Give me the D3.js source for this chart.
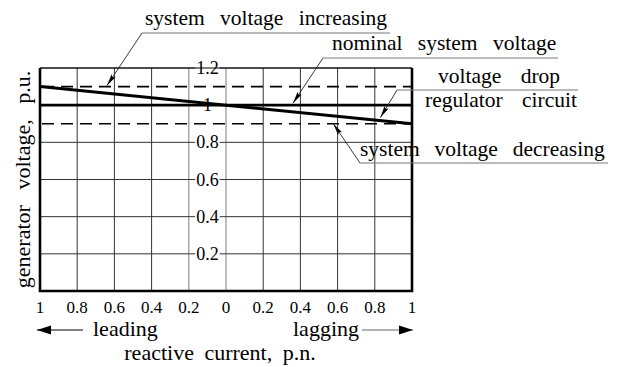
<!DOCTYPE html>
<html>
<head>
<meta charset="utf-8">
<script src="https://cdn.jsdelivr.net/npm/d3@7"></script>
<style>
  body { margin: 0; background: #fff; }
  text { font-family: "Liberation Serif", "Times New Roman", serif; fill: #000; }
</style>
</head>
<body>
<svg id="chart" width="618" height="367"></svg>
<script>
// reactive current, p.u. (negative = leading, positive = lagging)
const xTicks = [-1, -0.8, -0.6, -0.4, -0.2, 0, 0.2, 0.4, 0.6, 0.8, 1];
const yTicks = [0.2, 0.4, 0.6, 0.8, 1, 1.2];
const yGrid = [0.2, 0.4, 0.6, 0.8, 1.2];
// regulator characteristic (voltage drop)
const droopLine = [{x: -1, v: 1.1}, {x: 1, v: 0.9}];
const nominalVoltage = 1.0;
const bandLimits = [1.1, 0.9];

const svg = d3.select("svg#chart");
const margin = {top: 68, left: 40, right: 206, bottom: 76};
const width = +svg.attr("width");
const height = +svg.attr("height");

let x = d3.scaleLinear().domain([-1, 1]).range([margin.left, width - margin.right]);
let y = d3.scaleLinear().domain([0, 1.2]).range([height - margin.bottom, margin.top]);

const defs = svg.append("defs");
defs.append("marker")
    .attr("id", "tip")
    .attr("viewBox", "0 0 12 6")
    .attr("refX", 12).attr("refY", 3)
    .attr("markerWidth", 12).attr("markerHeight", 6)
    .attr("markerUnits", "userSpaceOnUse")
    .attr("orient", "auto")
    .append("path").attr("d", "M0,0.6 L12,3 L0,5.4 L2,3 Z").attr("fill", "#000");
defs.append("marker")
    .attr("id", "bigtip")
    .attr("viewBox", "0 0 14 10")
    .attr("refX", 14).attr("refY", 5)
    .attr("markerWidth", 14).attr("markerHeight", 10)
    .attr("markerUnits", "userSpaceOnUse")
    .attr("orient", "auto")
    .append("path").attr("d", "M0,0.5 L14,5 L0,9.5 Z").attr("fill", "#000");

// vertical gridlines (the two around the y labels are light)
svg.append("g").selectAll("line")
    .data(xTicks.slice(1, -1))
    .join("line")
    .attr("x1", d => x(d)).attr("x2", d => x(d))
    .attr("y1", y(1.2)).attr("y2", y(0))
    .attr("stroke", d => (d === 0 || d === -0.2) ? "#9a9a9a" : "#333")
    .attr("stroke-width", d => (d === 0 || d === -0.2) ? 1.3 : 1);

// horizontal gridlines
svg.append("g").selectAll("line")
    .data(yGrid)
    .join("line")
    .attr("x1", x(-1)).attr("x2", x(1))
    .attr("y1", d => y(d)).attr("y2", d => y(d))
    .attr("stroke", "#333")
    .attr("stroke-width", 1);

// y labels sit between the light gridlines, on white
const labX = (x(-0.2) + x(0)) / 2;
const yLab = svg.append("g").selectAll("g")
    .data(yTicks)
    .join("g");
yLab.each(function (d) {
    const g = d3.select(this);
    const t = g.append("text")
        .attr("x", labX).attr("y", y(d) + 6)
        .attr("text-anchor", "middle")
        .style("font-size", "18px")
        .text(d3.format("~g")(d));
    if (d !== 1) {
        const b = t.node().getBBox();
        g.insert("rect", "text")
            .attr("x", b.x - 1).attr("y", y(d) - 3)
            .attr("width", b.width + 2).attr("height", 6)
            .attr("fill", "#fff");
    }
});

// dashed band limits
svg.append("g").selectAll("line")
    .data(bandLimits)
    .join("line")
    .attr("x1", x(-1)).attr("x2", x(1))
    .attr("y1", d => y(d)).attr("y2", d => y(d))
    .attr("stroke", "#000")
    .attr("stroke-width", 1.6)
    .attr("stroke-dasharray", "12,7")
    .attr("stroke-dashoffset", -2);

// nominal voltage
svg.append("line")
    .attr("x1", x(-1)).attr("x2", x(1))
    .attr("y1", y(nominalVoltage)).attr("y2", y(nominalVoltage))
    .attr("stroke", "#000").attr("stroke-width", 2.6);

// droop line
svg.append("path")
    .datum(droopLine)
    .attr("d", d3.line().x(d => x(d.x)).y(d => y(d.v)))
    .attr("stroke", "#000").attr("stroke-width", 3).attr("fill", "none");

// frame
svg.append("line").attr("x1", x(-1)).attr("x2", x(1)).attr("y1", y(1.2)).attr("y2", y(1.2))
    .attr("stroke", "#000").attr("stroke-width", 1);
svg.append("path")
    .attr("d", `M${x(-1)},${y(1.2)} V${y(0)} H${x(1)} V${y(1.2)}`)
    .attr("fill", "none").attr("stroke", "#000").attr("stroke-width", 2.6);

// x tick labels
svg.append("g").selectAll("text")
    .data(xTicks)
    .join("text")
    .attr("x", d => x(d)).attr("y", y(0) + 22)
    .attr("text-anchor", "middle")
    .style("font-size", "17px")
    .text(d => d3.format("~g")(Math.abs(d)));

// leading / lagging
svg.append("text").attr("x", 93).attr("y", 336).style("font-size", "22px").text("leading");
svg.append("text").attr("x", 293).attr("y", 336).style("font-size", "22px").text("lagging");
svg.append("line").attr("x1", 83).attr("x2", x(-1) - 3).attr("y1", 330).attr("y2", 330)
    .attr("stroke", "#000").attr("stroke-width", 1).attr("marker-end", "url(#bigtip)");
svg.append("line").attr("x1", 362).attr("x2", x(1) + 1).attr("y1", 330).attr("y2", 330)
    .attr("stroke", "#666").attr("stroke-width", 1).attr("marker-end", "url(#bigtip)");

// axis titles
svg.append("text").attr("x", 220).attr("y", 360)
    .attr("text-anchor", "middle").style("font-size", "22px").style("word-spacing", "5px")
    .text("reactive current, p.n.");
svg.append("text")
    .attr("transform", `translate(30, ${(y(0) + y(1.2)) / 2}) rotate(-90)`)
    .attr("text-anchor", "middle").style("font-size", "22px").style("word-spacing", "10px")
    .text("generator voltage, p.u.");

// callouts: label, underline, leader to a point on a curve
const callouts = [
    {text: ["system voltage increasing"], tx: 145, ty: 25, ux1: 142, ux2: 390, uy: 33,
     px: -0.64, pv: 1.1, dy: -1, ws: 10},
    {text: ["nominal system voltage"], tx: 332, ty: 50, ux1: 323, ux2: 558, uy: 58,
     px: 0.36, pv: 1.0, dy: -2, ws: 10},
    {text: ["voltage drop", "regulator circuit"], tx: 438, ty: 83, ux1: 397, ux2: 578, uy: 90,
     px: 0.83, pv: 0.917, dy: -3, tx2: 425, ty2: 107, ws: 14},
    {text: ["system voltage decreasing"], tx: 360, ty: 156, ux1: 360, ux2: 608, uy: 163,
     px: 0.577, pv: 0.9, dy: 0, ws: 9.5}
];

callouts.forEach(c => {
    svg.append("text").attr("x", c.tx).attr("y", c.ty)
        .style("font-size", "21.5px").style("word-spacing", c.ws + "px").text(c.text[0]);
    if (c.text[1]) {
        svg.append("text").attr("x", c.tx2).attr("y", c.ty2)
            .style("font-size", "21.5px").style("word-spacing", c.ws + "px").text(c.text[1]);
    }
    svg.append("line").attr("x1", c.ux1).attr("x2", c.ux2).attr("y1", c.uy).attr("y2", c.uy)
        .attr("stroke", "#777").attr("stroke-width", 1);
    svg.append("line").attr("x1", c.ux1).attr("y1", c.uy)
        .attr("x2", x(c.px)).attr("y2", y(c.pv) + c.dy)
        .attr("stroke", "#222").attr("stroke-width", 0.9)
        .attr("marker-end", "url(#tip)");
});
</script>
</body>
</html>
